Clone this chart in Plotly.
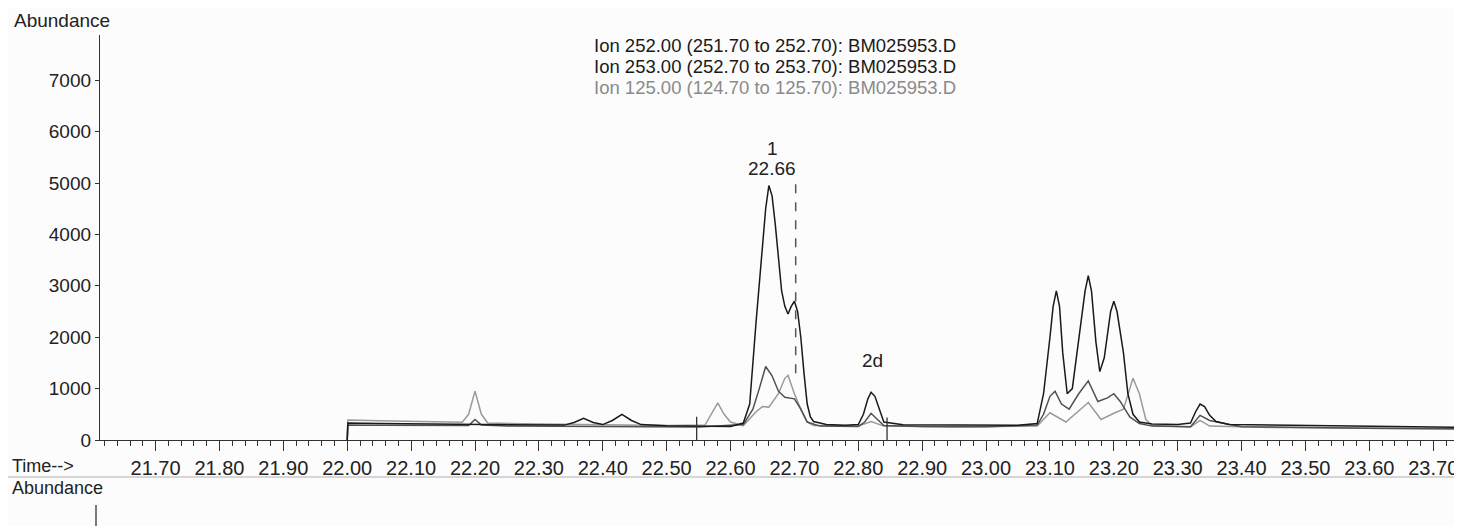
import plotly.graph_objects as go

# ---- data ----
t_252 = [22.00, 22.001, 22.05, 22.10, 22.15, 22.19, 22.21, 22.25, 22.30, 22.34, 22.355, 22.37,
         22.385, 22.40, 22.415, 22.43, 22.445, 22.46, 22.50, 22.55, 22.60, 22.62, 22.63,
         22.64, 22.65, 22.655, 22.66, 22.665, 22.67, 22.675, 22.68, 22.685, 22.69, 22.695,
         22.70, 22.705, 22.71, 22.715, 22.72, 22.725, 22.73, 22.75, 22.78, 22.80, 22.808,
         22.815, 22.82, 22.826, 22.833, 22.84, 22.87, 22.95, 23.00, 23.05, 23.08, 23.09,
         23.10, 23.105, 23.11, 23.115, 23.12, 23.127, 23.135, 23.145, 23.155, 23.16, 23.165,
         23.172, 23.178, 23.185, 23.195, 23.20, 23.205, 23.215, 23.222, 23.23, 23.24, 23.26,
         23.30, 23.32, 23.328, 23.335, 23.342, 23.35, 23.36, 23.38, 23.45, 23.55, 23.65, 23.745]
a_252 = [0, 330, 320, 315, 305, 300, 300, 295, 290, 290, 340, 420,
         340, 300, 380, 500, 380, 300, 275, 265, 265, 330, 700,
         2300, 3700, 4500, 4950, 4750, 4200, 3500, 2900, 2600, 2450, 2600,
         2700, 2500, 2000, 1300, 700, 450, 360, 300, 285, 300, 500,
         800, 930, 850, 600, 350, 295, 285, 285, 285, 320, 900,
         2000, 2600, 2900, 2600, 1700, 900, 1000, 1900, 2900, 3200, 2900,
         1900, 1330, 1600, 2500, 2700, 2500, 1700, 900, 500, 350, 310,
         300, 330, 550, 700, 650, 480, 360, 300, 290, 265, 255, 245]

t_253 = [22.00, 22.001, 22.05, 22.10, 22.15, 22.19, 22.20, 22.21, 22.25, 22.35, 22.45, 22.55,
         22.62, 22.635, 22.645, 22.655, 22.665, 22.675, 22.685, 22.69, 22.70, 22.71, 22.72,
         22.74, 22.80, 22.81, 22.82, 22.83, 22.84, 22.90, 23.00, 23.08, 23.09, 23.1, 23.108,
         23.118, 23.13, 23.145, 23.16, 23.175, 23.19, 23.20, 23.21, 23.225, 23.24, 23.26, 23.32,
         23.335, 23.35, 23.40, 23.50, 23.60, 23.745]
a_253 = [0, 290, 285, 280, 275, 280, 400, 290, 270, 265, 260, 255,
         300, 600, 1000, 1430, 1250, 950, 830, 820, 800, 600, 350,
         270, 265, 350, 520, 400, 280, 265, 260, 290, 500, 850, 950,
         700, 600, 900, 1150, 750, 820, 900, 750, 450, 320, 270, 260,
         480, 380, 260, 240, 230, 220]

t_125 = [22.00, 22.001, 22.05, 22.10, 22.15, 22.18, 22.19, 22.20, 22.21, 22.22, 22.30, 22.40,
         22.50, 22.56, 22.57, 22.58, 22.59, 22.60, 22.62, 22.64, 22.65, 22.66, 22.675, 22.685,
         22.69, 22.70, 22.71, 22.72, 22.73, 22.80, 22.82, 22.84, 22.95, 23.08, 23.10, 23.125,
         23.16, 23.18, 23.20, 23.215, 23.225, 23.23, 23.24, 23.25, 23.26, 23.32, 23.335, 23.35,
         23.45, 23.55, 23.65, 23.745]
a_125 = [0, 390, 375, 360, 345, 345, 500, 950, 500, 330, 310, 290,
         280, 290, 500, 720, 500, 350, 280, 550, 650, 640, 900, 1200,
         1260, 900, 600, 350, 280, 270, 360, 270, 255, 270, 530, 350,
         730, 400, 520, 600, 1000, 1200, 900, 400, 280, 255, 380, 270,
         245, 235, 225, 215]

legend_lines = ["Ion 252.00 (251.70 to 252.70): BM025953.D",
                "Ion 253.00 (252.70 to 253.70): BM025953.D",
                "Ion 125.00 (124.70 to 125.70): BM025953.D"]
legend_colors = ["#1a1a1a", "#1a1a1a", "#8a8a8a"]

x_ticks = [21.70, 21.80, 21.90, 22.00, 22.10, 22.20, 22.30, 22.40, 22.50, 22.60,
           22.70, 22.80, 22.90, 23.00, 23.10, 23.20, 23.30, 23.40, 23.50, 23.60, 23.70]
y_ticks = [0, 1000, 2000, 3000, 4000, 5000, 6000, 7000]

peak_labels = [("1", 22.665, 5680), ("22.66", 22.665, 5290), ("2d", 22.822, 1540)]
integration_marks = [(22.547, 0, 450), (22.845, 0, 440)]
dashed_marker = (22.702, 1300, 5150)

# ---- figure ----
fig = go.Figure()
fig.add_trace(go.Scatter(x=t_125, y=a_125, mode="lines",
                         line=dict(color="#9a9a9a", width=1.5), name="125"))
fig.add_trace(go.Scatter(x=t_253, y=a_253, mode="lines",
                         line=dict(color="#505050", width=1.5), name="253"))
fig.add_trace(go.Scatter(x=t_252, y=a_252, mode="lines",
                         line=dict(color="#1a1a1a", width=1.5), name="252"))

font = "Liberation Sans, Arial, sans-serif"
OFF = 8  # page body margin
PH = 405.0  # plot height in px


def py(pix):
    """paper y from a page pixel row (plot spans rows 35..440)"""
    return (440.0 - pix) / PH


def px(pix):
    return (pix - 100.0) / 1362.0


fig.update_layout(
    width=1462 - OFF, height=526 - OFF,
    margin=dict(l=100 - OFF, r=0, t=35 - OFF, b=86, pad=0),
    paper_bgcolor="#fcfcfc", plot_bgcolor="#fcfcfc",
    showlegend=False,
    font=dict(family=font, color="#1a1a1a"),
)
fig.update_xaxes(
    range=[21.613, 23.745], tickvals=x_ticks,
    ticktext=[f"{v:.2f}" for v in x_ticks],
    showline=True, linecolor="#333", linewidth=1.3,
    ticks="outside", ticklen=10, tickcolor="#333", tickwidth=1.2,
    minor=dict(dtick=0.02, tick0=21.70, ticks="outside", ticklen=5, tickcolor="#333", tickwidth=1),
    showgrid=False, zeroline=False, automargin=False,
    tickfont=dict(size=20, color="#222"),
)
fig.update_yaxes(
    range=[0, 7880], tickvals=y_ticks, ticktext=[str(v) for v in y_ticks],
    showline=True, linecolor="#333", linewidth=1.3,
    ticks="outside", ticklen=4, tickcolor="#333",
    showgrid=False, zeroline=False, ticklabelstandoff=0, automargin=False,
    tickfont=dict(size=19, color="#222"),
)

ann = [
    dict(text="Abundance", xref="paper", yref="paper", x=px(12), y=py(20),
         xanchor="left", yanchor="middle", showarrow=False, font=dict(size=19, color="#222")),
    dict(text="Time-->", xref="paper", yref="paper", x=px(10), y=py(466),
         xanchor="left", yanchor="middle", showarrow=False, font=dict(size=18, color="#222")),
    dict(text="Abundance", xref="paper", yref="paper", x=px(10), y=py(488),
         xanchor="left", yanchor="middle", showarrow=False, font=dict(size=18, color="#222")),
]
for i, (txt, col) in enumerate(zip(legend_lines, legend_colors)):
    ann.append(dict(text=txt, xref="paper", yref="paper", x=px(592), y=py(46 + 20.7 * i),
                    xanchor="left", yanchor="middle", showarrow=False,
                    font=dict(size=18.5, color=col)))
for txt, x, y in peak_labels:
    ann.append(dict(text=txt, x=x, y=y, xref="x", yref="y", showarrow=False,
                    font=dict(size=19, color="#222")))
fig.update_layout(annotations=ann)

shapes = []
for t, y0, y1 in integration_marks:
    shapes.append(dict(type="line", xref="x", yref="y", x0=t, x1=t, y0=y0, y1=y1,
                       line=dict(color="#333", width=1.3)))
shapes.append(dict(type="line", xref="x", yref="y", x0=dashed_marker[0], x1=dashed_marker[0],
                   y0=dashed_marker[1], y1=dashed_marker[2],
                   line=dict(color="#555", width=1.5, dash="dash")))
shapes.append(dict(type="line", xref="paper", yref="paper", x0=px(OFF), x1=1.0,
                   y0=py(477), y1=py(477), line=dict(color="#d6d6d6", width=2)))
shapes.append(dict(type="line", xref="paper", yref="paper", x0=px(96), x1=px(96),
                   y0=py(505), y1=py(526), line=dict(color="#333", width=1.3)))
fig.update_layout(shapes=shapes)

fig.write_html("out.html")
